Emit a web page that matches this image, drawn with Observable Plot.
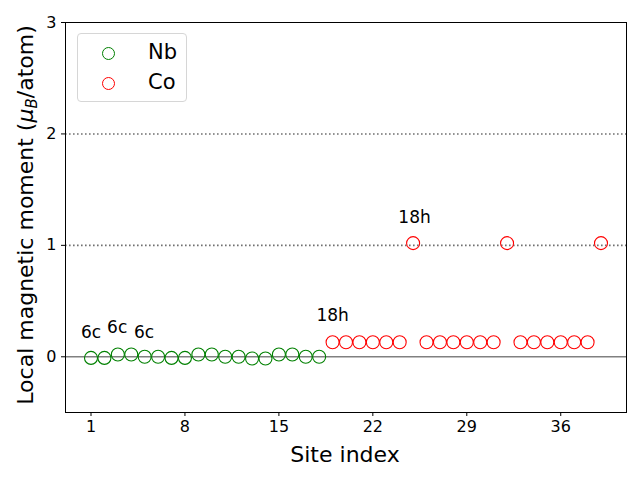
<!DOCTYPE html>
<html>
<head>
<meta charset="utf-8">
<script src="https://cdn.jsdelivr.net/npm/d3@7"></script>
<script src="https://cdn.jsdelivr.net/npm/@observablehq/plot@0.6"></script>
<style>
  body { margin: 0; background: #fff; }
  #wrap { position: relative; width: 640px; height: 480px; font-family: "DejaVu Sans", sans-serif; }
  .legend { position: absolute; left: 77px; top: 33px; width: 110px; height: 69px; border: 1px solid #d6d6d6; border-radius: 4px; background: rgba(255,255,255,0.8); box-sizing: border-box; }
  .lm { position: absolute; width: 13px; height: 13px; border-radius: 50%; box-sizing: border-box; border: 1.2px solid; }
  .lt { position: absolute; font-size: 21px; line-height: 21px; color: #000; }
</style>
</head>
<body>
<div id="wrap"></div>
<script>
const nbSites = [1,2,3,4,5,6,7,8,9,10,11,12,13,14,15,16,17,18];
const nbMoments = [-0.01,-0.01,0.02,0.02,0.0,0.0,-0.01,-0.01,0.02,0.02,0.0,0.0,-0.015,-0.015,0.02,0.02,0.0,0.0];
const coSites = [19,20,21,22,23,24,25,26,27,28,29,30,31,32,33,34,35,36,37,38,39];
const coMoments = [0.13,0.13,0.13,0.13,0.13,0.13,1.02,0.13,0.13,0.13,0.13,0.13,0.13,1.02,0.13,0.13,0.13,0.13,0.13,0.13,1.02];
const annoLabels = ["6c","6c","6c","18h","18h"];
const annoX = [0.25, 2.2, 4.2, 17.8, 23.9];
const annoY = [0.17, 0.215, 0.17, 0.32, 1.2];
const xTicks = [1,8,15,22,29,36];
const yTicks = [0,1,2,3];

const nbData = nbSites.map((s,i) => ({site: s, m: nbMoments[i]}));
const coData = coSites.map((s,i) => ({site: s, m: coMoments[i]}));
const annoData = annoLabels.map((t,i) => ({t, x: annoX[i], y: annoY[i]}));

const chart = Plot.plot({
  width: 640,
  height: 480,
  marginLeft: 65,
  marginRight: 14,
  marginTop: 22,
  marginBottom: 68,
  style: { fontFamily: "DejaVu Sans, sans-serif", background: "#fff" },
  x: { domain: [-0.9, 40.9] },
  y: { domain: [-0.5, 3] },
  marks: [
    Plot.ruleY([0], { stroke: "gray", strokeWidth: 1.5 }),
    Plot.ruleY([1, 2], { stroke: "#707070", strokeWidth: 1.6, strokeDasharray: "1.6,2.4" }),
    Plot.dot(nbData, { x: "site", y: "m", r: 6.5, stroke: "green", strokeWidth: 1.1, fill: "none" }),
    Plot.dot(coData, { x: "site", y: "m", r: 6.5, stroke: "red", strokeWidth: 1.1, fill: "none" }),
    Plot.text(annoData, { x: "x", y: "y", text: "t", textAnchor: "start", lineAnchor: "bottom", fontSize: 17, fill: "black" }),
    Plot.axisX({ ticks: xTicks, tickFormat: d => String(d), tickSize: 4, fontSize: 16, label: null, tickPadding: 4, color: "black" }),
    Plot.axisY({ ticks: yTicks, tickFormat: d => String(d), tickSize: 4, fontSize: 16, label: null, tickPadding: 5, color: "black" }),
    Plot.frame({ stroke: "black", strokeWidth: 1 })
  ]
});

const svg = d3.select(chart);
svg.append("text")
  .attr("x", 345).attr("y", 462)
  .attr("text-anchor", "middle")
  .attr("font-size", 22)
  .attr("font-family", "DejaVu Sans, sans-serif")
  .attr("fill", "black")
  .text("Site index");
const yl = svg.append("text")
  .attr("transform", "translate(33,215) rotate(-90)")
  .attr("text-anchor", "middle")
  .attr("font-size", 22)
  .attr("font-family", "DejaVu Sans, sans-serif")
  .attr("fill", "black");
yl.append("tspan").text("Local magnetic moment (");
yl.append("tspan").attr("font-style", "italic").text("μ");
yl.append("tspan").attr("font-style", "italic").attr("font-size", 15).attr("dy", 4).text("B");
yl.append("tspan").attr("dy", -4).text("/atom)");

const wrap = document.getElementById("wrap");
wrap.appendChild(chart);

const legendNames = ["Nb", "Co"];
const legendColors = ["green", "red"];
const leg = document.createElement("div");
leg.className = "legend";
legendNames.forEach((n, i) => {
  const mk = document.createElement("div");
  mk.className = "lm";
  mk.style.borderColor = legendColors[i];
  mk.style.left = (30 - 6.5) + "px";
  mk.style.top = (19 + i * 30 - 6.5) + "px";
  leg.appendChild(mk);
  const t = document.createElement("div");
  t.className = "lt";
  t.textContent = n;
  t.style.left = "70px";
  t.style.top = (19 + i * 30 - 11) + "px";
  leg.appendChild(t);
});
wrap.appendChild(leg);
</script>
</body>
</html>
